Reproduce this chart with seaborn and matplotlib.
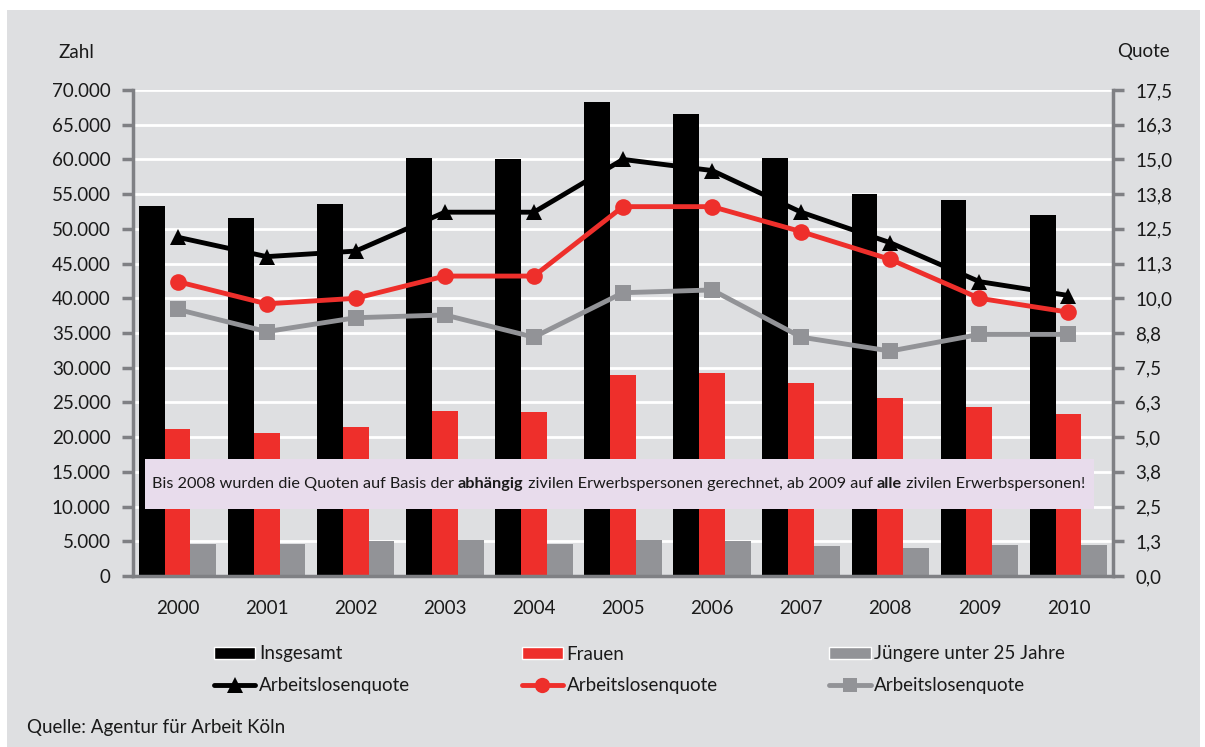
import numpy as np
import pandas as pd
import matplotlib
matplotlib.use("Agg")
import matplotlib.pyplot as plt
from matplotlib.patches import Rectangle, Patch
from matplotlib.lines import Line2D
import seaborn as sns

# ---- data -------------------------------------------------------------
jahre = ["2000", "2001", "2002", "2003", "2004", "2005",
         "2006", "2007", "2008", "2009", "2010"]
insgesamt = [53300, 51600, 53600, 60200, 60100, 68300,
             66500, 60200, 55000, 54200, 52000]
frauen = [21200, 20600, 21500, 23800, 23600, 29000,
          29200, 27800, 25600, 24300, 23300]
juengere = [4600, 4600, 5000, 5200, 4600, 5200,
            5000, 4300, 4000, 4500, 4500]
quote_gesamt = [12.2, 11.5, 11.7, 13.1, 13.1, 15.0,
                14.6, 13.1, 12.0, 10.6, 10.1]
quote_frauen = [10.6, 9.8, 10.0, 10.8, 10.8, 13.3,
                13.3, 12.4, 11.4, 10.0, 9.5]
quote_juengere = [9.6, 8.8, 9.3, 9.4, 8.6, 10.2,
                  10.3, 8.6, 8.1, 8.7, 8.7]

gruppen = ["Insgesamt", "Frauen", "Jüngere unter 25 Jahre"]
quote_label = "Arbeitslosenquote"

zahl_ticks = [0, 5000, 10000, 15000, 20000, 25000, 30000, 35000,
              40000, 45000, 50000, 55000, 60000, 65000, 70000]
zahl_labels = ["0", "5.000", "10.000", "15.000", "20.000", "25.000",
               "30.000", "35.000", "40.000", "45.000", "50.000",
               "55.000", "60.000", "65.000", "70.000"]
quote_ticks = [0, 1.25, 2.5, 3.75, 5.0, 6.25, 7.5, 8.75, 10.0,
               11.25, 12.5, 13.75, 15.0, 16.25, 17.5]
quote_labels = ["0,0", "1,3", "2,5", "3,8", "5,0", "6,3", "7,5", "8,8",
                "10,0", "11,3", "12,5", "13,8", "15,0", "16,3", "17,5"]

hinweis = [
    ("Bis 2008 wurden die Quoten auf Basis der ", "normal"),
    ("abhängig", "bold"),
    (" zivilen Erwerbspersonen gerechnet, ab 2009 auf ", "normal"),
    ("alle", "bold"),
    (" zivilen Erwerbspersonen!", "normal"),
]
quelle = "Quelle: Agentur für Arbeit Köln"

# ---- style ------------------------------------------------------------
SCHWARZ = "#000000"
ROT = "#EE2F2B"
GRAU = "#929397"
ACHSE = "#7F8084"
HINTERGRUND = "#DEDFE1"
BOX = "#E8DCEC"
TEXT = "#1A1A1A"

sns.set_theme(style="white")
plt.rcParams["font.family"] = ["Lato", "DejaVu Sans"]
FS = 13.5

W, H = 1205, 747
fig = plt.figure(figsize=(W / 100, H / 100), dpi=100, facecolor="white")
fig.patches.append(Rectangle((7 / W, 0), (1200 - 7) / W, (H - 10) / H,
                             transform=fig.transFigure, facecolor=HINTERGRUND,
                             edgecolor="none", zorder=-10))

def fx(px):
    return px / W

def fy(py):
    return (H - py) / H

ax = fig.add_axes([fx(133), fy(576), fx(1113) - fx(133), fy(90) - fy(576)])
ax.set_facecolor("none")

df = pd.DataFrame({
    "Jahr": jahre * 3,
    "Zahl": insgesamt + frauen + juengere,
    "Gruppe": [gruppen[0]] * 11 + [gruppen[1]] * 11 + [gruppen[2]] * 11,
})
sns.barplot(data=df, x="Jahr", y="Zahl", hue="Gruppe", hue_order=gruppen,
            palette=[SCHWARZ, ROT, GRAU], saturation=1, width=0.87,
            dodge=True, legend=False, ax=ax, zorder=2, linewidth=0,
            edgecolor="none")

ax.set_ylim(0, 70000)
ax.set_xlim(-0.5, 10.5)
ax.set_yticks(zahl_ticks)
ax.set_yticklabels(zahl_labels, fontsize=FS, color=TEXT)
ax.set_xticks(range(len(jahre)))
ax.set_xticklabels(jahre, fontsize=FS, color=TEXT)
ax.set_xticks(np.arange(-0.5, 11, 1), minor=True)
ax.tick_params(axis="x", which="major", length=0, pad=17)
ax.tick_params(axis="x", which="minor", length=8, width=2.5, color=ACHSE,
               direction="out")
ax.tick_params(axis="y", length=8, width=2.5, color=ACHSE, pad=8,
               direction="out")
ax.set_xlabel("")
ax.set_ylabel("")
ax.yaxis.grid(True, color="white", linewidth=2)
ax.set_axisbelow(True)
for s in ["top", "right"]:
    ax.spines[s].set_visible(False)
for s in ["left", "bottom"]:
    ax.spines[s].set_color(ACHSE)
    ax.spines[s].set_linewidth(2.5)

# ---- rate lines on the secondary axis ---------------------------------
ax2 = ax.twinx()
ax2.set_ylim(0, 17.5)
pos = np.arange(len(jahre))
for werte, farbe, marker, ms in [
    (quote_juengere, GRAU, "s", 11),
    (quote_frauen, ROT, "o", 12),
    (quote_gesamt, SCHWARZ, "^", 12),
]:
    sns.lineplot(x=pos, y=werte, color=farbe, marker=marker, markersize=ms,
                 markeredgewidth=0, linewidth=3.5, ax=ax2, zorder=3)
ax2.set_xlim(-0.5, 10.5)
ax2.set_yticks(quote_ticks)
ax2.set_yticklabels(quote_labels, fontsize=FS, color=TEXT)
ax2.tick_params(axis="y", length=8, width=2.5, color=ACHSE, pad=8,
                direction="out")
ax2.set_ylabel("")
for s in ["top", "left", "bottom"]:
    ax2.spines[s].set_visible(False)
ax2.spines["right"].set_color(ACHSE)
ax2.spines["right"].set_linewidth(2.5)

# ---- axis titles ------------------------------------------------------
fig.text(fx(58), fy(52), "Zahl", fontsize=FS, color=TEXT, va="center")
fig.text(fx(1117), fy(52), "Quote", fontsize=FS, color=TEXT, va="center")

# ---- note box ---------------------------------------------------------
fig.patches.append(Rectangle((fx(145), fy(509)), fx(1094) - fx(145),
                             fy(459) - fy(509), transform=fig.transFigure,
                             facecolor=BOX, edgecolor="none", zorder=5))
renderer = fig.canvas.get_renderer()
x = 152
for teil, gewicht in hinweis:
    t = fig.text(fx(x), fy(484), teil, fontsize=11.7, fontweight=gewicht,
                 color=TEXT, va="center", ha="left", zorder=6)
    bb = t.get_window_extent(renderer)
    x = bb.x1

# ---- legend -----------------------------------------------------------
handles = [
    Patch(facecolor=SCHWARZ, label=gruppen[0]),
    Line2D([], [], color=SCHWARZ, marker="^", markersize=11, lw=3.5,
           markeredgewidth=0, label=quote_label),
    Patch(facecolor=ROT, label=gruppen[1]),
    Line2D([], [], color=ROT, marker="o", markersize=11, lw=3.5,
           markeredgewidth=0, label=quote_label),
    Patch(facecolor=GRAU, label=gruppen[2]),
    Line2D([], [], color=GRAU, marker="s", markersize=10, lw=3.5,
           markeredgewidth=0, label=quote_label),
]
fig.legend(handles=handles, ncol=3, loc="center left",
           bbox_to_anchor=(fx(214), fy(670)), frameon=False,
           fontsize=FS, handlelength=2.2, handleheight=0.65,
           handletextpad=0.2, columnspacing=5.95, labelspacing=0.8,
           labelcolor=TEXT, borderpad=0, borderaxespad=0)

fig.text(fx(27), fy(727), quelle, fontsize=FS, color=TEXT, va="center")

fig.savefig("out.png", dpi=100, facecolor="white")
